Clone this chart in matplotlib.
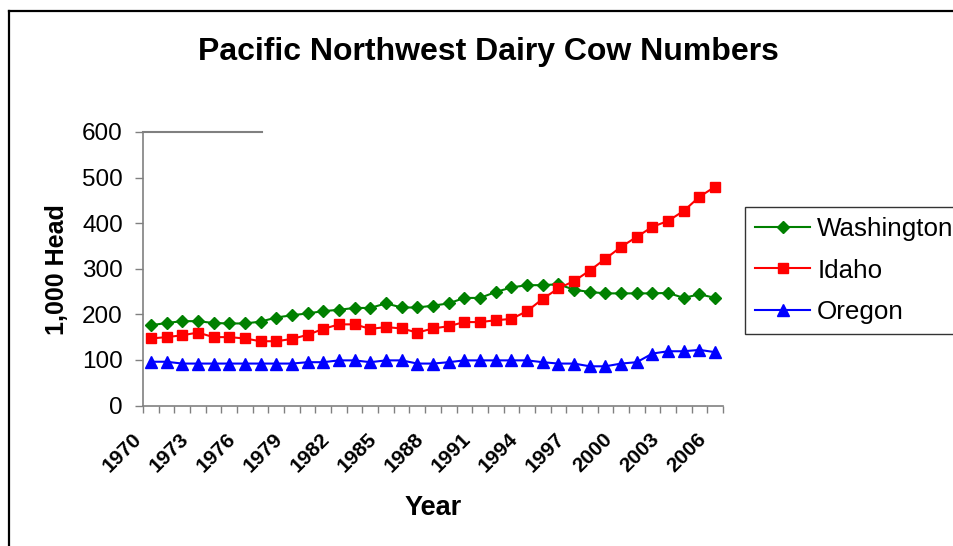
import matplotlib
matplotlib.use("Agg")
import matplotlib.pyplot as plt
from matplotlib.lines import Line2D
import matplotlib.transforms as mtransforms
import numpy as np

plt.rcParams['font.family'] = ['Liberation Sans', 'DejaVu Sans']

years = list(range(1970, 2007))
washington = [176, 181, 185, 185, 181, 180, 180, 184, 193, 198, 202, 207, 210, 214, 214, 224,
              215, 215, 219, 224, 236, 236, 249, 259, 264, 264, 266, 254, 249, 246, 246, 246,
              246, 247, 236, 244, 236]
idaho = [147, 150, 154, 160, 150, 150, 147, 141, 141, 146, 155, 168, 178, 178, 168, 172,
         169, 160, 169, 174, 183, 183, 187, 190, 207, 234, 257, 273, 296, 322, 348, 370,
         392, 405, 427, 458, 480]
oregon = [96, 96, 92, 92, 92, 92, 92, 92, 92, 92, 95, 95, 99, 99, 95, 99,
          99, 92, 92, 95, 99, 99, 99, 99, 99, 95, 92, 92, 86, 86, 92, 95,
          114, 119, 119, 122, 117]
series_names = ["Washington", "Idaho", "Oregon"]
yticks = [0, 100, 200, 300, 400, 500, 600]

W, H = 954, 546
fig = plt.figure(figsize=(W / 100, H / 100), dpi=100)
ax = fig.add_axes([143 / W, 1 - 405.5 / H, 580 / W, 273.5 / H])

x = np.arange(len(years))
ax.plot(x, washington, color='#008000', lw=1.5, marker='D', ms=6.5, mec='#008000', mfc='#008000',
        label=series_names[0], zorder=3)
ax.plot(x, idaho, color='#FF0000', lw=1.5, marker='s', ms=7.5, mec='#FF0000', mfc='#FF0000',
        label=series_names[1], zorder=3)
ax.plot(x, oregon, color='#0000FF', lw=1.5, marker='^', ms=9, mec='#0000FF', mfc='#0000FF',
        label=series_names[2], zorder=3)

ax.set_xlim(-0.5, len(years) - 0.5)
ax.set_ylim(0, 600)
ax.set_yticks(yticks)
ax.set_yticklabels([str(v) for v in yticks], fontsize=17.5)
ax.tick_params(axis='y', direction='out', length=5.5, width=1, color='#808080', pad=9)

# category boundary ticks (minor) and labels at centres every 3 years
ax.set_xticks(np.arange(-0.5, len(years), 1.0), minor=True)
lab_idx = x[::3]
ax.set_xticks(lab_idx)
ax.set_xticklabels([str(years[i]) for i in lab_idx], rotation=45, ha='right',
                   rotation_mode='anchor', fontsize=15, fontweight='bold')
ax.tick_params(axis='x', which='major', length=0, pad=17)
ax.tick_params(axis='x', which='minor', direction='out', length=5, width=1, color='#808080')
offset = mtransforms.ScaledTranslation(-19 / 100, 0, fig.dpi_scale_trans)
for lbl in ax.get_xticklabels():
    lbl.set_transform(lbl.get_transform() + offset)

for s in ['top', 'right']:
    ax.spines[s].set_visible(False)
for s in ['left', 'bottom']:
    ax.spines[s].set_color('#808080')
    ax.spines[s].set_linewidth(1.2)

# stray gray line along the top of the plot area
ax.plot([0, 119 / 580], [1, 1], transform=ax.transAxes, color='#808080', lw=1.5,
        clip_on=False, zorder=4)

fig.text(488.5 / W, 1 - 52 / H, "Pacific Northwest Dairy Cow Numbers", ha='center', va='center',
         fontsize=23, fontweight='bold')
fig.text(433 / W, 1 - 508 / H, "Year", ha='center', va='center', fontsize=19.5, fontweight='bold')
fig.text(57 / W, 1 - 270 / H, "1,000 Head", ha='center', va='center', rotation=90,
         fontsize=18, fontweight='bold')

leg = fig.legend(loc='upper left', bbox_to_anchor=(745 / W, 1 - 207 / H), fontsize=18.7,
                 frameon=True, fancybox=False, edgecolor='black', handlelength=2.1,
                 handletextpad=0.28, labelspacing=0.66, borderpad=0.4, borderaxespad=0)
leg.get_frame().set_linewidth(1.0)

# outer chart border (left and top visible)
fig.add_artist(Line2D([9.5 / W, 9.5 / W], [0, 1 - 10.5 / H], color='black', lw=1.6,
                      transform=fig.transFigure))
fig.add_artist(Line2D([9.5 / W, 1], [1 - 10.5 / H, 1 - 10.5 / H], color='black', lw=1.6,
                      transform=fig.transFigure))

fig.savefig("out.png", dpi=100)
